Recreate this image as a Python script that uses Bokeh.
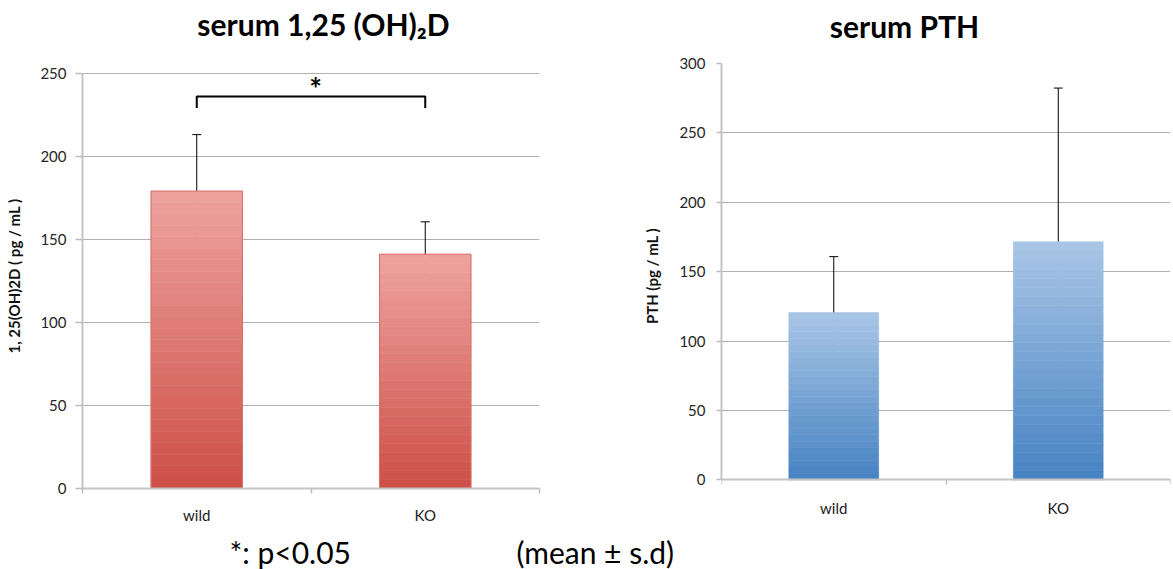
import numpy as np
from bokeh.plotting import figure
from bokeh.models import ColumnDataSource, FixedTicker, Whisker, TeeHead, LinearAxis
from bokeh.layouts import row, column
from bokeh.embed import file_html
from bokeh.resources import INLINE
from bokeh.core.properties import value

# ---------------- data ----------------
categories = ["wild", "KO"]
vd_mean = [179.0, 141.0]
vd_sd = [34.0, 19.5]
pth_mean = [120.5, 171.5]
pth_sd = [40.3, 110.8]
vd_ticks = [0, 50, 100, 150, 200, 250]
pth_ticks = [0, 50, 100, 150, 200, 250, 300]
titles = ["serum 1,25 (OH)\u2082D", "serum PTH"]
vd_ylabel = "1, 25(OH)2D ( pg / mL )"
pth_ylabel = "PTH (pg / mL )"
sig_mark = "*"
sig_level = 236.0
sig_drop = 7.0
footnotes = ["*: p<0.05", "(mean \u00b1 s.d)"]

FONT = "Lato"
N_BANDS = 26
W = 1173
HEAD_H, ROW_H, FOOT_H = 42, 490, 37
AXIS_GREY = "#c4c4c4"
TICK_GREY = "#bdbdbd"


def hex2rgb(h):
    h = h.lstrip("#")
    return tuple(int(h[i:i + 2], 16) for i in (0, 2, 4))


def mix(c_bottom, c_top, t):
    a, b = hex2rgb(c_bottom), hex2rgb(c_top)
    return "#%02x%02x%02x" % tuple(int(round(a[k] + (b[k] - a[k]) * t)) for k in range(3))


def style_x_labels(ax, xs, standoff):
    ax.ticker = FixedTicker(ticks=list(xs), minor_ticks=list(range(len(xs) + 1)))
    ax.major_label_overrides = {float(x): c for x, c in zip(xs, categories)}
    ax.major_tick_out = 0
    ax.major_tick_in = 0
    ax.major_tick_line_color = None
    ax.minor_tick_out = 5
    ax.minor_tick_in = 0
    ax.major_label_text_font = FONT
    ax.major_label_text_font_size = "15px"
    ax.major_label_text_color = "#1a1a1a"
    ax.major_label_standoff = standoff


def make_panel(means, sds, ticks, yrange, ylabel, c_bottom, c_top, outline,
               width, b_left, b_right, tick_out, tick_standoff, label_standoff, x_standoff):
    ncat = len(categories)
    xs = np.arange(ncat) + 0.5
    p = figure(width=width, height=ROW_H, x_range=(0, ncat), y_range=yrange,
               toolbar_location=None, output_backend="svg",
               min_border_left=b_left, min_border_right=b_right,
               min_border_top=21, min_border_bottom=ROW_H - 21 - 425)
    p.outline_line_color = None
    p.background_fill_color = "white"
    p.border_fill_color = "white"

    # gradient bars built from stacked bands
    bx, bb, bt, bc = [], [], [], []
    for i in range(ncat):
        for j in range(N_BANDS):
            bx.append(xs[i])
            bb.append(means[i] * j / N_BANDS)
            bt.append(means[i] * (j + 1) / N_BANDS)
            bc.append(mix(c_bottom, c_top, (j + 0.5) / N_BANDS))
    src = ColumnDataSource(dict(x=bx, bottom=bb, top=bt, color=bc))
    p.vbar(x="x", bottom="bottom", top="top", width=0.4, source=src,
           fill_color="color", line_color="color", line_width=0.6)
    if outline:
        p.vbar(x=xs, top=means, bottom=0, width=0.4, fill_color=None,
               line_color=outline, line_width=1)

    esrc = ColumnDataSource(dict(base=xs,
                                 upper=[m + s for m, s in zip(means, sds)],
                                 lower=[m - s for m, s in zip(means, sds)]))
    w = Whisker(base="base", upper="upper", lower="lower", source=esrc,
                line_color="black", line_width=1,
                upper_head=TeeHead(size=9, line_color="black", line_width=1),
                lower_head=TeeHead(size=9, line_color="black", line_width=1))
    p.add_layout(w)

    # x axis: category labels at centres, ticks at category boundaries
    ax = p.xaxis[0]
    style_x_labels(ax, xs, x_standoff)
    if yrange[0] == 0:
        ax.axis_line_color = AXIS_GREY
        ax.axis_line_width = 2
        ax.minor_tick_line_color = TICK_GREY
        ax.minor_tick_line_width = 1.5
    else:
        # labels stay at the frame edge, the axis line sits at value 0
        ax.axis_line_color = None
        ax.minor_tick_line_color = None
        base_axis = LinearAxis(fixed_location=0)
        style_x_labels(base_axis, xs, x_standoff)
        base_axis.major_label_text_color = None
        base_axis.axis_line_color = AXIS_GREY
        base_axis.axis_line_width = 2
        base_axis.minor_tick_line_color = TICK_GREY
        base_axis.minor_tick_line_width = 1.5
        p.add_layout(base_axis, "below")

    ay = p.yaxis[0]
    ay.bounds = (ticks[0], ticks[-1])
    ay.ticker = FixedTicker(ticks=ticks)
    ay.major_tick_out = tick_out
    ay.major_tick_in = 0
    ay.major_tick_line_color = TICK_GREY
    ay.major_tick_line_width = 1.5
    ay.minor_tick_line_color = None
    ay.axis_line_color = AXIS_GREY
    ay.axis_line_width = 2
    ay.major_label_text_font = FONT
    ay.major_label_text_font_size = "15px"
    ay.major_label_text_color = "#262626"
    ay.major_label_standoff = tick_standoff
    ay.axis_label = ylabel
    ay.axis_label_text_font = FONT
    ay.axis_label_text_font_style = "bold"
    ay.axis_label_text_font_size = "15px"
    ay.axis_label_text_color = "#111111"
    ay.axis_label_standoff = label_standoff

    p.xgrid.visible = False
    p.ygrid.ticker = FixedTicker(ticks=ticks)
    p.ygrid.grid_line_color = "#b0b0b0"
    p.ygrid.grid_line_width = 1.2
    return p, xs


p1, xs1 = make_panel(vd_mean, vd_sd, vd_ticks, (0, 255.8), vd_ylabel,
                     "#cd4f47", "#eea39f", "#d86f69",
                     width=600, b_left=82, b_right=61,
                     tick_out=7, tick_standoff=9, label_standoff=14, x_standoff=12)
p2, xs2 = make_panel(pth_mean, pth_sd, pth_ticks, (-6.3, 300), pth_ylabel,
                     "#4682c2", "#a9c6e6", None,
                     width=W - 600, b_left=121, b_right=3,
                     tick_out=5, tick_standoff=11, label_standoff=15, x_standoff=5)

# significance bracket between the two bars
p1.line(x=[xs1[0], xs1[0], xs1[1], xs1[1]],
        y=[sig_level - sig_drop, sig_level, sig_level, sig_level - sig_drop],
        line_color="black", line_width=2)
p1.text(x=[(xs1[0] + xs1[1]) / 2 + 0.02], y=[sig_level + 5], text=[sig_mark],
        text_font=value(FONT), text_font_style="bold", text_font_size="30px",
        text_align="center", text_baseline="middle", text_color="black")

# header with the two chart titles
head = figure(width=W, height=HEAD_H, x_range=(0, W), y_range=(0, HEAD_H),
              toolbar_location=None, output_backend="svg", min_border=0,
              x_axis_type=None, y_axis_type=None)
head.outline_line_color = None
head.grid.visible = False
head.text(x=[323, 904], y=[19, 17], text=titles, text_font=value(FONT),
          text_font_style="bold", text_font_size="30px", text_align="center",
          text_baseline="middle", text_color="black")

# footer
foot = figure(width=W, height=FOOT_H, x_range=(0, W), y_range=(0, FOOT_H),
              toolbar_location=None, output_backend="svg", min_border=0,
              x_axis_type=None, y_axis_type=None)
foot.outline_line_color = None
foot.grid.visible = False
foot.text(x=[229, 516], y=[18, 18], text=footnotes, text_font=value(FONT),
          text_font_size="30px", text_align="left", text_baseline="middle",
          text_color="black")

layout = column(head, row(p1, p2), foot)
open("out.html", "w").write(file_html(layout, INLINE))
